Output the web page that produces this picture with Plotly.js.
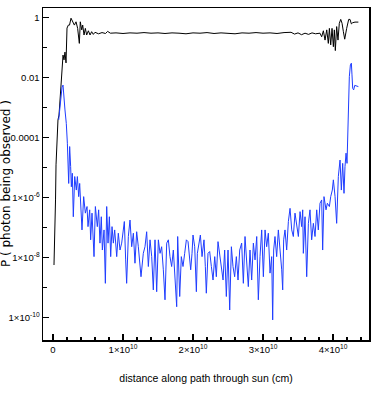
<!DOCTYPE html>
<html>
<head>
<meta charset="utf-8">
<script src="https://cdn.plot.ly/plotly-3.0.1.min.js"></script>
<style>
  html, body { margin: 0; padding: 0; background: #fff; }
  #chart { width: 374px; height: 409px; }
</style>
</head>
<body>
<div id="chart"></div>
<script>
// distance along the path (units of 1e10 cm) and log10 of P
var blackX = [0.014,0.029,0.036,0.043,0.05,0.064,0.071,0.086,0.1,0.114,0.129,0.143,0.157,0.171,0.186,0.2,0.219,0.236,0.257,0.271,0.281,0.305,0.329,0.352,0.376,0.39,0.41,0.424,0.443,0.462,0.481,0.505,0.529,0.552,0.576,0.6,0.65,0.7,0.75,0.78,0.82,
  0.9,1.0,1.1,1.2,1.3,1.4,1.5,1.6,1.7,1.8,1.9,2.0,2.1,2.2,2.3,2.4,2.5,2.6,2.7,2.8,2.9,3.0,3.1,3.2,3.3,3.4,3.45,3.5,3.55,3.6,3.65,3.7,3.75,
  3.814,3.838,3.862,3.886,3.91,3.933,3.948,3.967,3.986,4.005,4.019,4.033,4.052,4.071,4.09,4.11,4.129,4.148,4.167,4.195,4.224,4.243,4.262,4.281,4.314,4.362];
var blackLogP = [-8.26,-7.09,-6.09,-4.92,-4.42,-3.76,-3.42,-3.26,-2.76,-2.02,-1.82,-1.26,-1.42,-1.16,-1.52,-0.36,-0.26,-0.26,-0.03,-0.09,-0.15,-0.26,-0.15,-0.37,-0.87,-0.15,-0.42,-0.26,-0.59,-0.37,-0.59,-0.45,-0.59,-0.48,-0.57,-0.5,-0.55,-0.51,-0.54,-0.47,-0.53,
  -0.52,-0.54,-0.52,-0.53,-0.51,-0.53,-0.52,-0.54,-0.52,-0.53,-0.55,-0.52,-0.53,-0.51,-0.54,-0.52,-0.53,-0.55,-0.52,-0.53,-0.51,-0.53,-0.52,-0.54,-0.51,-0.5,-0.56,-0.52,-0.58,-0.53,-0.57,-0.52,-0.55,
  -0.53,-0.65,-0.45,-0.76,-0.42,-0.87,-0.37,-0.92,-0.37,-0.98,-0.42,-1.11,-0.31,-0.76,-0.2,-0.07,-0.2,-0.48,-0.73,-0.37,-0.07,-0.07,-0.22,-0.18,-0.16,-0.16];

var blueX = [0.081,0.11,0.129,0.143,0.157,0.171,0.19,0.205,0.224,0.238,0.252,0.262,0.276,0.29,0.31,0.333,0.348,0.367,0.381,0.395,0.414,0.438,0.462,0.486,0.5,0.524,0.538,0.557,0.586,0.605,0.633,0.652,0.671,0.69,0.705,0.729,0.748,0.767,0.786,0.805,0.824,0.843,0.862,0.881,
  0.91,0.933,0.957,0.981,1.019,1.038,1.052,1.076,1.1,1.124,1.148,1.171,1.195,1.219,1.243,1.257,1.29,1.314,1.338,1.362,1.386,1.41,1.433,1.457,1.481,1.505,1.529,1.552,1.576,1.6,1.624,1.648,1.671,1.695,1.719,1.743,1.767,1.781,
  1.81,1.833,1.857,1.881,1.905,1.929,1.952,1.967,1.986,2.0,2.024,2.048,2.062,2.081,2.105,2.129,2.157,2.176,2.19,2.214,2.238,2.262,2.286,2.31,2.333,2.357,2.381,2.405,2.429,2.452,2.476,2.5,2.524,2.548,2.571,2.595,2.619,2.643,2.667,
  2.695,2.719,2.743,2.767,2.79,2.814,2.838,2.862,2.886,2.91,2.933,2.957,2.981,3.005,3.029,3.052,3.076,3.1,3.124,3.138,3.152,3.171,3.195,3.219,3.243,3.267,3.281,3.295,3.314,3.338,3.362,3.386,3.41,3.433,3.457,3.481,3.505,3.529,3.552,3.567,
  3.576,3.6,3.624,3.648,3.671,3.695,3.719,3.743,3.767,3.79,3.814,3.838,3.852,3.871,3.9,3.919,3.948,3.967,3.99,4.005,4.029,4.052,4.076,4.1,4.119,4.138,4.157,4.171,4.186,4.2,4.21,4.219,4.233,4.248,4.262,4.271,4.281,4.295,4.31,4.362];
var blueLogP = [-3.42,-2.65,-2.33,-2.26,-2.76,-3.09,-3.54,-4.2,-5.54,-4.31,-4.98,-5.65,-5.2,-6.65,-5.31,-5.76,-5.31,-5.98,-5.54,-6.42,-7.09,-5.98,-6.53,-6.31,-6.98,-6.42,-7.42,-6.53,-7.98,-6.31,-6.98,-6.42,-7.53,-6.65,-7.76,-7.09,-8.87,-6.31,-7.53,-6.65,-7.98,-6.98,-7.53,-7.09,
  -7.98,-7.2,-7.76,-7.53,-6.81,-8.09,-8.87,-7.31,-6.76,-7.65,-7.2,-8.2,-7.15,-7.65,-8.42,-8.65,-7.87,-7.65,-7.15,-8.31,-7.42,-7.98,-9.09,-7.42,-9.15,-7.42,-7.87,-7.65,-8.42,-9.42,-7.53,-7.42,-7.98,-8.31,-7.76,-8.65,-9.65,-7.31,
  -9.31,-7.98,-8.31,-7.87,-7.42,-7.48,-7.98,-8.42,-7.87,-7.26,-7.65,-9.15,-7.87,-7.53,-7.26,-7.98,-7.42,-8.31,-9.2,-7.87,-7.81,-8.31,-8.76,-7.98,-8.65,-7.48,-7.87,-8.42,-8.76,-7.76,-9.31,-7.76,-9.76,-7.65,-8.31,-8.65,-7.98,-8.76,-7.76,
  -7.53,-8.87,-7.31,-8.09,-8.98,-7.76,-8.76,-7.53,-8.09,-7.31,-9.42,-7.98,-7.09,-8.65,-7.09,-7.65,-7.2,-8.53,-7.98,-10.09,-7.76,-7.31,-7.98,-7.09,-7.65,-8.42,-9.09,-7.42,-7.09,-7.76,-6.81,-6.37,-7.09,-7.31,-6.53,-6.87,-7.31,-6.48,-6.98,-6.42,
  -7.87,-6.65,-8.65,-6.87,-6.42,-7.42,-6.87,-7.31,-6.42,-7.09,-6.2,-6.09,-7.76,-5.98,-6.42,-6.2,-6.31,-5.98,-5.76,-5.42,-5.98,-6.87,-5.31,-4.76,-5.76,-4.87,-5.87,-4.98,-4.53,-4.87,-3.65,-2.76,-1.98,-1.59,-1.53,-1.92,-2.37,-2.42,-2.27,-2.31];

var xTickVals = [0, 1e10, 2e10, 3e10, 4e10];
var xTickText = ['0', '1\u00d710<sup>10</sup>', '2\u00d710<sup>10</sup>', '3\u00d710<sup>10</sup>', '4\u00d710<sup>10</sup>'];
var yTickVals = [1, 0.01, 1e-4, 1e-6, 1e-8, 1e-10];
var yTickText = ['1', '0.01', '0.0001', '1\u00d710<sup>-6</sup>', '1\u00d710<sup>-8</sup>', '1\u00d710<sup>-10</sup>'];
var yMinorVals = [0.1, 1e-3, 1e-5, 1e-7, 1e-9];
var xMinorVals = [-0.2e10, 0.2e10, 0.4e10, 0.6e10, 0.8e10, 1.2e10, 1.4e10, 1.6e10, 1.8e10, 2.2e10, 2.4e10, 2.6e10, 2.8e10, 3.2e10, 3.4e10, 3.6e10, 3.8e10, 4.2e10, 4.4e10];

function toCm(a) { return a.map(function (v) { return v * 1e10; }); }
function toP(a) { return a.map(function (v) { return Math.pow(10, v); }); }

var sans = '"Liberation Sans", Arial, sans-serif';

var data = [
  {x: toCm(blackX), y: toP(blackLogP), type: 'scatter', mode: 'lines',
   line: {color: '#000000', width: 1}, hoverinfo: 'skip'},
  {x: toCm(blueX), y: toP(blueLogP), type: 'scatter', mode: 'lines',
   line: {color: '#1f3dff', width: 1}, hoverinfo: 'skip'}
];

var layout = {
  width: 374, height: 409,
  margin: {l: 43, r: 5, t: 8, b: 69},
  paper_bgcolor: '#ffffff', plot_bgcolor: '#ffffff',
  showlegend: false,
  font: {family: sans, size: 9.5, color: '#000'},
  xaxis: {
    range: [-0.143e10, 4.514e10],
    tickmode: 'array', tickvals: xTickVals, ticktext: xTickText,
    ticks: 'inside', ticklen: 6, tickwidth: 1.2, tickcolor: '#000',
    minor: {tickmode: 'array', tickvals: xMinorVals, ticks: 'inside', ticklen: 3, tickcolor: '#000'},
    showline: true, linecolor: '#000', linewidth: 1.5, mirror: true,
    showgrid: false, zeroline: false,
    tickfont: {family: sans, size: 9.5},
    title: {text: 'distance along path through sun (cm)', font: {family: sans, size: 10.5}, standoff: 20}
  },
  yaxis: {
    type: 'log', range: [-10.76, 0.31],
    tickmode: 'array', tickvals: yTickVals, ticktext: yTickText,
    ticks: 'inside', ticklen: 6, tickwidth: 1.2, tickcolor: '#000',
    minor: {tickmode: 'array', tickvals: yMinorVals, ticks: 'inside', ticklen: 4, tickcolor: '#000'},
    showline: true, linecolor: '#000', linewidth: 1.5, mirror: true,
    showgrid: false, zeroline: false,
    tickfont: {family: sans, size: 9.5}
  },
  annotations: [{
    text: 'P ( photon being observed )', textangle: -90,
    xref: 'paper', yref: 'paper', x: -0.113, y: 0.47,
    xanchor: 'center', yanchor: 'middle', showarrow: false,
    font: {family: '"DejaVu Sans", sans-serif', size: 12}
  }]
};

Plotly.newPlot('chart', data, layout, {displayModeBar: false, staticPlot: true});
</script>
</body>
</html>
